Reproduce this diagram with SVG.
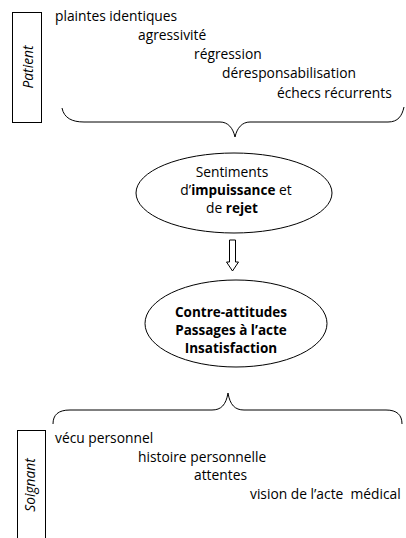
<svg xmlns="http://www.w3.org/2000/svg" width="406" height="538" viewBox="0 0 406 538">
<style>
text{font-family:"Open Sans","Liberation Sans",sans-serif;font-size:13.8px;fill:#000}
.b{font-weight:bold;font-size:13.5px}
.c{text-anchor:middle}
.i{font-style:italic}
.ln{fill:none;stroke:#000;stroke-width:1}
</style>
<rect width="406" height="538" fill="#fff"/>
<g id="patient">
<rect class="ln" x="12.5" y="12.5" width="29" height="110"/>
<text class="i c" transform="translate(32.5,67) rotate(-90)">Patient</text>
</g>
<g id="patient-items">
<text x="55" y="21">plaintes identiques</text>
<text x="138" y="40">agressivité</text>
<text x="194" y="59">régression</text>
<text x="222" y="78">déresponsabilisation</text>
<text x="277" y="98">échecs récurrents</text>
</g>
<g id="sentiments">
<ellipse class="ln" cx="234" cy="193" rx="98" ry="40"/>
<text class="c" x="232" y="177">Sentiments</text>
<text class="c" x="236" y="195">d’<tspan class="b">impuissance</tspan> et</text>
<text class="c" x="232" y="213">de <tspan class="b">rejet</tspan></text>
</g>
<g id="contre-attitudes">
<ellipse class="ln" cx="236" cy="323.5" rx="91" ry="43.5"/>
<text class="b c" x="231" y="317">Contre-attitudes</text>
<text class="b c" x="231" y="335">Passages à l’acte</text>
<text class="b c" x="231" y="353">Insatisfaction</text>
</g>
<g id="soignant">
<rect class="ln" x="17.5" y="430.5" width="28" height="120"/>
<text class="i c" transform="translate(35,485) rotate(-90)">Soignant</text>
</g>
<g id="soignant-items">
<text x="55" y="443">vécu personnel</text>
<text x="138" y="462">histoire personnelle</text>
<text x="194" y="480">attentes</text>
<text x="250" y="499" xml:space="preserve">vision de l’acte  médical</text>
</g>
<g id="connectors">
<path class="ln" d="M62,108 C64,118 72,122 84,122 L220,122 C228,122 233,128 235,137 C237,128 242,122 250,122 L388,122 C398,122 402,116 404,107"/>
<polygon class="ln" points="229.5,240 235.5,240 235.5,262 238.5,262 232.5,271 226.5,262 229.5,262"/>
<path class="ln" d="M53,424 C53,415 58,410 70,410 L212,410 C221,410 226,405 228,393 C230,405 235,410 244,410 L386,410 C397,410 402,415 402,424"/>
</g>
</svg>
